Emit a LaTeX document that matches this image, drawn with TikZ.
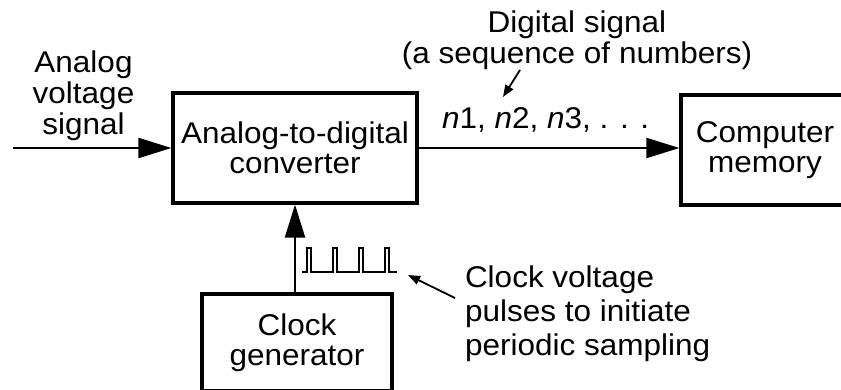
\documentclass[tikz,border=0pt]{standalone}
\usepackage{fontspec}
\setmainfont{Liberation Sans}[FakeStretch=1.05]
\usetikzlibrary{arrows.meta}
\begin{document}
\begin{tikzpicture}[x=1pt,y=-1pt,
  txt/.style={font=\fontsize{30}{31}\selectfont, inner sep=0pt, outer sep=0pt},
  blockbox/.style={draw, line width=3.2pt, inner sep=0pt, align=center,
    font=\fontsize{30}{30}\selectfont},
  bigarrow/.style={line width=2.2pt, -{Triangle[length=33pt,width=20pt]}},
  smallarrow/.style={line width=1.8pt, -{Triangle[length=12pt,width=9pt]}},
  pulse/.style={line width=1.8pt}]
\useasboundingbox (0,0) rectangle (841,389);
\clip (0,0) rectangle (841,389);

% blocks
\node[blockbox, minimum width=244pt, minimum height=110pt] (adc) at (295,148)
  {Analog-to-digital\\converter};
\node[blockbox, minimum width=168pt, minimum height=110pt] (mem) at (765,150)
  {Computer\\memory};
\node[blockbox, minimum width=190pt, minimum height=97pt] (clk) at (297,342.5)
  {Clock\\generator};

% labels
\node[txt, align=center] (ain) at (83.5,95.5) {Analog\\voltage\\signal};
\node[txt, align=center] (dsig) at (577,40) {Digital signal\\(a sequence of numbers)};
\node[txt, anchor=base west] (seq) at (442,128) {\textit{n}1, \textit{n}2, \textit{n}3, . . .};
\node[txt, align=left, anchor=west, font=\fontsize{30}{34}\selectfont] (clab) at (465,313.5)
  {Clock voltage\\pulses to initiate\\periodic sampling};

% connectors
\coordinate (inStart) at (13,148);
\draw[bigarrow] (inStart) -- (adc.west);
\draw[bigarrow] (adc.east) -- (adc.east -| mem.west);
\draw[bigarrow] (clk.north -| adc.south) -- (adc.south);

% pulse train
\draw[pulse] (302,272) -- (307,272) -- (307,248) -- (311,248) -- (311,272)
  -- (333,272) -- (333,248) -- (337,248) -- (337,272)
  -- (359,272) -- (359,248) -- (363,248) -- (363,272)
  -- (385,272) -- (385,248) -- (389,248) -- (389,272) -- (397,272);

% pointer arrows
\coordinate (dTail) at (520,70);
\coordinate (dTip) at (503,97);
\draw[smallarrow] (dTail) -- (dTip);
\coordinate (pTail) at (455,298);
\coordinate (pTip) at (408,275);
\draw[smallarrow] (pTail) -- (pTip);
\end{tikzpicture}
\end{document}
